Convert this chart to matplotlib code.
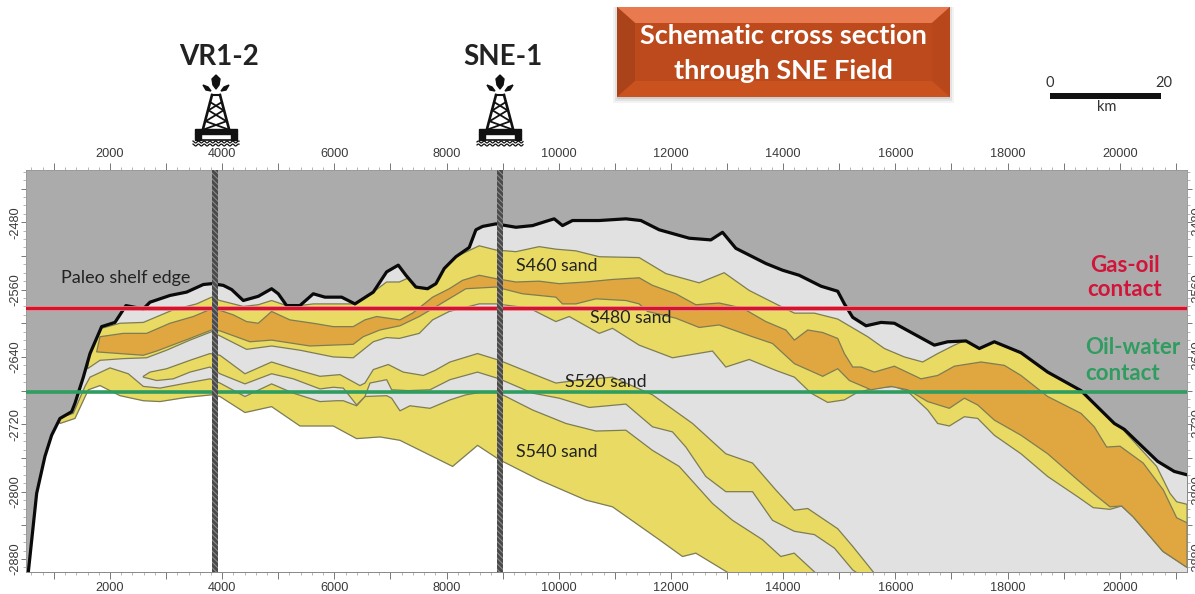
import numpy as np
import matplotlib
matplotlib.use("Agg")
import matplotlib.pyplot as plt
from matplotlib.patches import Rectangle, Polygon
from matplotlib.ticker import MultipleLocator, FuncFormatter

top_x = [545, 693, 841, 960, 1109, 1317, 1376, 1525, 1644, 1851, 2089, 2285, 2594, 2713, 3069, 3366, 3663, 3812, 4020, 4169,
         4376, 4644, 4881, 5000, 5148, 5386, 5624, 5832, 6129, 6367, 6694, 6931, 7139, 7275, 7453, 7661, 7810, 7958, 8166, 8404,
         8523, 8642, 8879, 9236, 9533, 9770, 9918, 10067, 10245, 10720, 11196, 11463, 11790, 12325, 12711, 12919, 13156, 13691, 13988, 14285,
         14675, 14972, 15091, 15240, 15477, 15745, 15982, 16695, 16933, 17259, 17497, 17764, 18239, 18715, 19309, 19903, 20081, 20675, 20972, 21200]
top_d = [2895, 2802, 2758, 2733, 2713, 2705, 2695, 2664, 2636, 2604, 2599, 2579, 2583, 2575, 2567, 2563, 2554, 2553, 2555, 2560,
         2573, 2568, 2559, 2565, 2579, 2579, 2565, 2569, 2569, 2577, 2563, 2539, 2531, 2543, 2557, 2559, 2553, 2535, 2521, 2510,
         2489, 2485, 2482, 2486, 2484, 2479, 2476, 2484, 2478, 2478, 2476, 2478, 2489, 2499, 2501, 2492, 2511, 2529, 2537, 2543,
         2556, 2562, 2577, 2593, 2603, 2599, 2600, 2626, 2622, 2621, 2630, 2622, 2635, 2658, 2680, 2719, 2726, 2764, 2776, 2780]

base_x = [1109, 1376, 1614, 1822, 1970, 2178, 2594, 2891, 3366, 3812, 3960, 4406, 4881, 5386, 5980, 6396, 6811, 7168, 8107, 8552, 8939, 9651, 10483, 10958, 11790, 12206, 12443, 13037]
base_d = [2719, 2713, 2679, 2674, 2679, 2686, 2692, 2693, 2688, 2685, 2687, 2706, 2699, 2722, 2722, 2737, 2735, 2739, 2770, 2745, 2762, 2786, 2810, 2818, 2857, 2877, 2873, 2897]

s540_x = [1079, 1346, 1554, 1644, 2000, 2327, 2594, 2891, 3366, 3782, 3960, 4406, 4881, 5267, 5743, 6041, 6159, 6397, 6545, 6932, 7021, 7169, 7348, 7704, 8061, 8344, 8701, 8939, 9533, 10127, 10661, 11196, 11671, 12146, 12740, 13096, 13631, 13958, 14196, 14586]
s540_d = [2713, 2707, 2675, 2664, 2653, 2660, 2675, 2677, 2671, 2666, 2671, 2687, 2672, 2683, 2693, 2692, 2692, 2698, 2687, 2686, 2689, 2704, 2698, 2701, 2691, 2685, 2681, 2683, 2703, 2719, 2728, 2727, 2751, 2770, 2814, 2834, 2857, 2877, 2873, 2897]

s520_top_x = [2594, 2713, 3010, 3426, 3782, 3960, 4406, 4881, 5267, 5743, 6100, 6456, 6545, 6694, 6960, 7228, 7585, 7793, 8061, 8552, 8939, 9533, 9948, 10305, 10958, 11671, 12384, 12978, 13453, 13869, 14200, 14438, 14972, 15240, 15626]
s520_top_d = [2663, 2658, 2654, 2644, 2636, 2638, 2660, 2646, 2654, 2663, 2661, 2674, 2671, 2655, 2649, 2658, 2662, 2656, 2646, 2636, 2644, 2660, 2671, 2668, 2664, 2685, 2719, 2755, 2766, 2798, 2822, 2820, 2844, 2865, 2897]
s520_bot_x = [2594, 2832, 3129, 3426, 3782, 3960, 4406, 4881, 5267, 5743, 5981, 6159, 6397, 6545, 6635, 6932, 7021, 7317, 7704, 8061, 8552, 8939, 9533, 10008, 10542, 11196, 11671, 12027, 12265, 12621, 12978, 13453, 13809, 14196, 14557, 14913, 15240, 15329]
s520_bot_d = [2664, 2668, 2666, 2658, 2652, 2660, 2672, 2660, 2666, 2678, 2676, 2677, 2697, 2687, 2671, 2667, 2679, 2680, 2679, 2667, 2658, 2666, 2683, 2689, 2700, 2696, 2723, 2729, 2747, 2782, 2800, 2800, 2834, 2847, 2851, 2867, 2893, 2897]

sand_top_x = [1600, 1620, 1851, 2178, 2594, 3129, 3544, 3812, 3960, 4376, 4643, 4881, 5148, 5386, 5623, 6336, 6693, 6930, 7157, 8166, 8582, 8879, 9236, 9651, 9948, 10305, 10721, 11433, 11909, 12503, 12948, 13394, 13809, 14200, 14557, 14972, 15507, 15804, 16160, 16487, 16754, 17051, 17259, 17764, 19309, 19900, 20657, 20895, 21014, 21200]
sand_top_d = [2654, 2640, 2606, 2600, 2599, 2584, 2577, 2569, 2573, 2580, 2578, 2573, 2579, 2579, 2577, 2577, 2563, 2551, 2551, 2521, 2508, 2513, 2515, 2509, 2512, 2514, 2521, 2522, 2541, 2552, 2540, 2561, 2575, 2588, 2588, 2595, 2616, 2630, 2640, 2646, 2636, 2626, 2620, 2618, 2675, 2715, 2770, 2802, 2812, 2815]
sand_bot_x = [1600, 1822, 2238, 2653, 3010, 3426, 3812, 3960, 4435, 4881, 5386, 5980, 6336, 6693, 6930, 7157, 7513, 7751, 8048, 8582, 8879, 9473, 9948, 10186, 10721, 10958, 11433, 12027, 12740, 12978, 13394, 13869, 14200, 14497, 14794, 15091, 15299, 15626, 15982, 16220, 16576, 16754, 16962, 17230, 17467, 17764, 18239, 18715, 19249, 19527, 19825, 20033, 20240, 20770, 21200]
sand_bot_d = [2654, 2644, 2642, 2641, 2632, 2620, 2610, 2615, 2631, 2627, 2632, 2640, 2641, 2622, 2617, 2618, 2612, 2596, 2586, 2577, 2577, 2582, 2598, 2592, 2612, 2606, 2626, 2641, 2633, 2652, 2643, 2656, 2664, 2683, 2694, 2691, 2683, 2677, 2675, 2681, 2703, 2719, 2722, 2711, 2713, 2733, 2755, 2782, 2806, 2819, 2821, 2817, 2830, 2871, 2890]

oil_top_x = [1822, 2238, 2653, 3069, 3485, 3841, 4198, 4435, 4643, 4881, 5208, 5623, 5980, 6336, 6544, 6752, 7168, 7394, 7751, 8048, 8285, 8582, 8879, 9236, 9651, 10008, 10483, 10958, 11433, 11671, 12087, 12443, 12859, 13275, 13691, 14047, 14200, 14438, 14705, 14972, 15091, 15240, 15388, 15626, 15982, 16457, 16754, 17051, 17527, 17942, 18239, 18715, 19309, 19546, 19766, 20004, 20417, 20776, 21014, 21200]
oil_top_d = [2616, 2612, 2612, 2600, 2592, 2582, 2590, 2598, 2600, 2586, 2596, 2600, 2604, 2604, 2596, 2592, 2596, 2588, 2569, 2559, 2549, 2543, 2547, 2551, 2550, 2553, 2551, 2548, 2546, 2555, 2565, 2578, 2576, 2582, 2598, 2608, 2620, 2608, 2611, 2618, 2636, 2652, 2652, 2658, 2651, 2666, 2662, 2651, 2646, 2650, 2662, 2687, 2707, 2723, 2747, 2746, 2766, 2798, 2831, 2837]
oil_bot_x = [1762, 2594, 2832, 3426, 3812, 3960, 4495, 4881, 5564, 6336, 6514, 6811, 7168, 7513, 7869, 8344, 8879, 9354, 9948, 10067, 10305, 10661, 11196, 11433, 11582, 12087, 12503, 12859, 13453, 13809, 14200, 14705, 14972, 15180, 15566, 15923, 16220, 16576, 16962, 17230, 17467, 17764, 18239, 18715, 19249, 19527, 19825, 20033, 20240, 20770, 21200]
oil_bot_d = [2634, 2638, 2633, 2618, 2608, 2609, 2622, 2620, 2627, 2625, 2616, 2608, 2603, 2592, 2578, 2559, 2557, 2565, 2569, 2577, 2577, 2571, 2573, 2577, 2586, 2594, 2605, 2602, 2616, 2624, 2648, 2663, 2654, 2668, 2679, 2675, 2679, 2693, 2701, 2689, 2697, 2715, 2733, 2755, 2786, 2802, 2818, 2817, 2830, 2871, 2890]

wells = ["VR1-2", "SNE-1"]
well_x = [3877, 8950]
gas_oil_depth = 2582
oil_water_depth = 2682
x_range = [503, 21193]
depth_range = [2418, 2895.4]

GRAY = "#ababab"
PALE = "#e1e1e1"
SAND = "#e8da62"
OIL = "#e0a640"
EDGE = "#7d7d55"
LABEL_FONT = ["Lato", "DejaVu Sans"]
TICK_FONT = ["Liberation Sans", "DejaVu Sans"]


def band(ax, tx, td, bx, bd, color, z):
    xs = np.r_[tx, bx[::-1]]
    ys = -np.r_[td, bd[::-1]]
    ax.fill(xs, ys, facecolor=color, edgecolor=EDGE, linewidth=0.9, zorder=z)


def derrick(ov, cx):
    ov.add_patch(Polygon([(cx, 75), (cx + 4, 79), (cx + 3, 85), (cx, 89), (cx - 3, 85), (cx - 4, 79)], color="#111"))
    for s in (-1, 1):
        ov.add_patch(Polygon([(cx + s * 13, 85), (cx + s * 10, 90), (cx + s * 5, 91), (cx + s * 8, 87)], color="#111"))
        ov.plot([cx + s * 4, cx + s * 13], [95, 129], color="#111", lw=1.9)
        ov.plot([cx + s * 6, cx - s * 7], [102, 110], color="#111", lw=1.3)
        ov.plot([cx + s * 8, cx - s * 10], [110, 121], color="#111", lw=1.3)
        ov.plot([cx + s * 11, cx - s * 11], [121, 129], color="#111", lw=1.3)
    ov.plot([cx - 4, cx + 4], [95, 95], color="#111", lw=1.5)
    ov.add_patch(Rectangle((cx - 21, 129), 42, 5, color="#111"))
    ov.add_patch(Rectangle((cx - 21, 134), 6, 6, color="#111"))
    ov.add_patch(Rectangle((cx + 15, 134), 6, 6, color="#111"))
    ov.plot([cx - 15, cx + 15], [140, 140], color="#111", lw=1.2)
    wx = np.linspace(cx - 23, cx + 23, 60)
    ov.plot(wx, 142 + np.sin(wx * 1.1), color="#111", lw=0.9)
    ov.plot(wx, 145 + np.sin(wx * 1.1), color="#111", lw=0.9)


fig = plt.figure(figsize=(11.95, 5.94), dpi=100)
ax = fig.add_axes([26 / 1195, 22 / 594, 1160.7 / 1195, 402 / 594])
ax.set_facecolor(PALE)
ax.set_xlim(x_range)
ax.set_ylim(-depth_range[1], -depth_range[0])

# white below the base of the deepest sand
ax.fill_between(np.r_[x_range[0], base_x], -np.r_[base_d[0], base_d], -depth_range[1], color="white", lw=0, zorder=1)

band(ax, s540_x, s540_d, base_x, base_d, SAND, 2)
band(ax, s520_top_x, s520_top_d, s520_bot_x, s520_bot_d, SAND, 3)
band(ax, sand_top_x, sand_top_d, sand_bot_x, sand_bot_d, SAND, 4)
band(ax, oil_top_x, oil_top_d, oil_bot_x, oil_bot_d, OIL, 5)

# overburden hides whatever pokes above the black horizon
ax.fill_between(np.r_[x_range[0], top_x], -np.r_[depth_range[1], top_d], -depth_range[0], color=GRAY, lw=0, zorder=6)
ax.plot(top_x, -np.array(top_d), color="#0a0a0a", lw=2.3, zorder=7, solid_joinstyle="round")

ax.axhline(-gas_oil_depth, color="#f0808a", lw=3.4, zorder=8)
ax.axhline(-gas_oil_depth, color="#d2142e", lw=2.2, zorder=8)
ax.axhline(-oil_water_depth, color="#2f9c60", lw=2.6, zorder=8)

plt.rcParams["hatch.linewidth"] = 0.8
for wx in well_x:
    ax.axvspan(wx - 53, wx + 53, facecolor="#4a4a4a", edgecolor="#8a8a8a", hatch="\\\\\\\\\\\\", lw=0, zorder=9)

ax.xaxis.set_major_locator(MultipleLocator(1000))
ax.xaxis.set_minor_locator(MultipleLocator(200))
ax.yaxis.set_major_locator(MultipleLocator(40))
ax.yaxis.set_minor_locator(MultipleLocator(10))
ax.xaxis.set_major_formatter(FuncFormatter(lambda v, p: f"{int(v)}" if int(v) % 2000 == 0 else ""))
ax.yaxis.set_major_formatter(FuncFormatter(lambda v, p: f"{int(v)}" if int(v) % 80 == 0 else ""))
ax.tick_params(which="major", direction="out", length=5, width=0.7, color="#777", top=True, bottom=True, left=True, right=True,
               labeltop=True, labelbottom=True, labelleft=True, labelright=True, labelsize=9.2, labelcolor="#3a3a3a", pad=2)
ax.tick_params(axis="y", which="major", length=3.5, pad=0)
ax.tick_params(which="minor", direction="out", length=2.5, width=0.5, color="#999", top=True, bottom=True, left=True, right=True)
for lab in ax.get_yticklabels():
    lab.set_rotation(90)
    lab.set_va("center")
for lab in ax.get_xticklabels() + ax.get_yticklabels():
    lab.set_family(TICK_FONT)
for s in ax.spines.values():
    s.set_color("#888")
    s.set_linewidth(0.7)

# pixel overlay for the annotations around the section
ov = fig.add_axes([0, 0, 1, 1], facecolor="none")
ov.set_xlim(0, 1195)
ov.set_ylim(594, 0)
ov.axis("off")

for name, lx, cx in zip(wells, (219, 503), (216, 500)):
    ov.text(lx, 57, name, family=LABEL_FONT, weight="bold", fontsize=20, color="#222", ha="center", va="center")
    derrick(ov, cx)

# title box with bevel and a soft shadow
for grow, alpha in [(6, 0.07), (4, 0.1), (2, 0.14)]:
    ov.add_patch(Rectangle((617 - grow + 2, 7), 333 + 2 * grow - 4, 90 + grow, color="#555", alpha=alpha, lw=0))
ov.add_patch(Rectangle((617, 7), 333, 90, color="#bd4a1c", lw=0))
ov.add_patch(Polygon([(617, 7), (950, 7), (932, 23), (635, 23)], color="#e97a50", lw=0))
ov.add_patch(Polygon([(617, 7), (635, 23), (635, 81), (617, 97)], color="#aa431a", lw=0))
ov.add_patch(Polygon([(950, 7), (932, 23), (932, 81), (950, 97)], color="#b8481c", lw=0))
ov.add_patch(Polygon([(617, 97), (635, 81), (932, 81), (950, 97)], color="#c9521f", lw=0))
ov.text(783, 36, "Schematic cross section", family=LABEL_FONT, weight="bold", fontsize=19.5, color="white", ha="center", va="center")
ov.text(783, 71, "through SNE Field", family=LABEL_FONT, weight="bold", fontsize=19.5, color="white", ha="center", va="center")

# scale bar
ov.add_patch(Rectangle((1050, 93), 111, 6, color="#111", lw=0))
ov.text(1050, 83, "0", family=LABEL_FONT, fontsize=10.5, color="#333", ha="center", va="center")
ov.text(1164, 83, "20", family=LABEL_FONT, fontsize=10.5, color="#333", ha="center", va="center")
ov.text(1107, 107, "km", family=LABEL_FONT, fontsize=10.5, color="#333", ha="center", va="center")

ov.text(126, 278, "Paleo shelf edge", family=LABEL_FONT, fontsize=13, color="#222", ha="center", va="center")
for txt, lx, ly in [("S460 sand", 557, 266), ("S480 sand", 631, 318), ("S520 sand", 606, 382), ("S540 sand", 557, 452)]:
    ov.text(lx, ly, txt, family=LABEL_FONT, fontsize=12.8, color="#222", ha="center", va="center")

ov.text(1125, 265, "Gas-oil", family=LABEL_FONT, weight="bold", fontsize=16, color="#d2143a", ha="center", va="center")
ov.text(1125, 290, "contact", family=LABEL_FONT, weight="bold", fontsize=16, color="#d2143a", ha="center", va="center")
ov.text(1133, 348, "Oil-water", family=LABEL_FONT, weight="bold", fontsize=16, color="#2f9c60", ha="center", va="center")
ov.text(1123, 373, "contact", family=LABEL_FONT, weight="bold", fontsize=16, color="#2f9c60", ha="center", va="center")

fig.savefig("out.png", dpi=100)
